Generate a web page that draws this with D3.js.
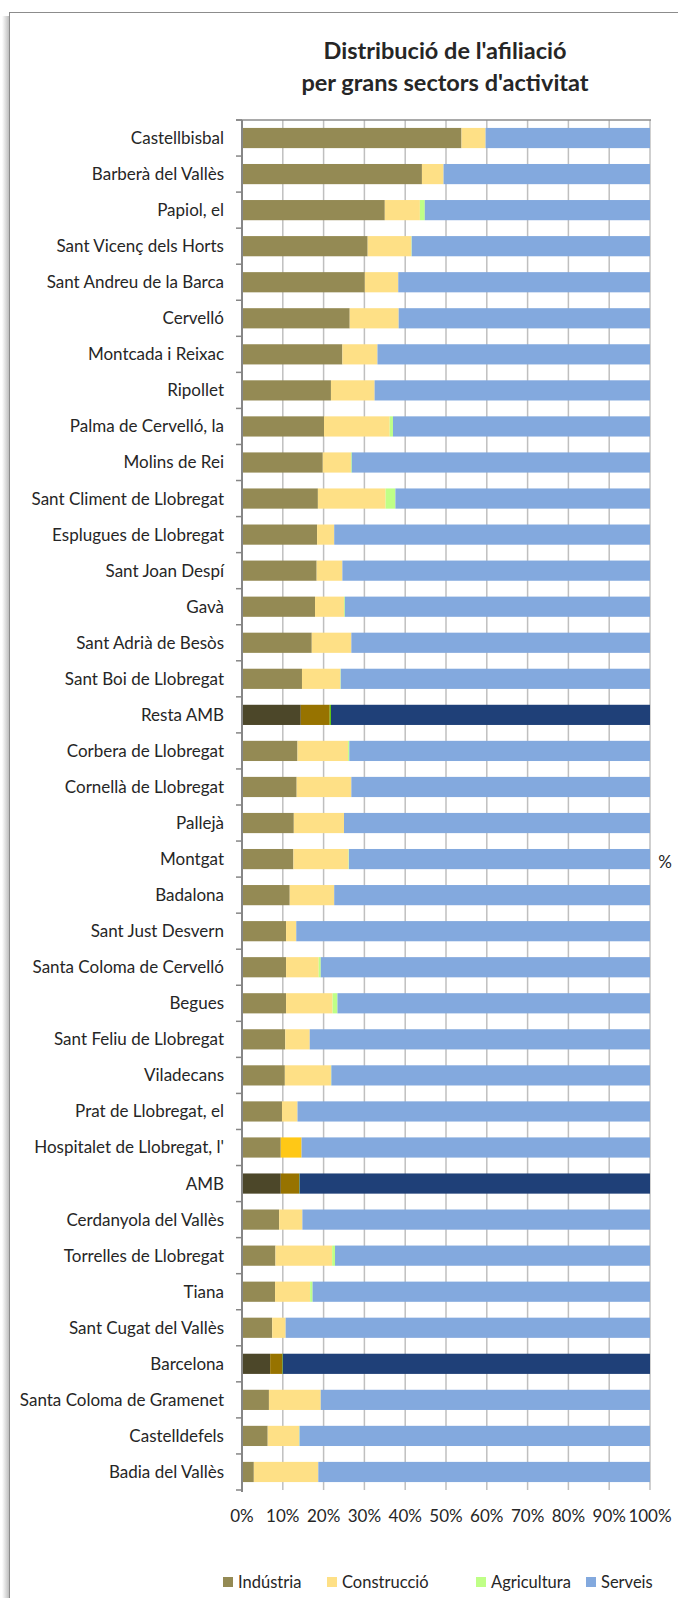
<!DOCTYPE html>
<html>
<head>
<meta charset="utf-8">
<script src="https://cdn.jsdelivr.net/npm/d3@7"></script>
<style>
  body { margin: 0; background: #fff; }
  svg { display: block; font-family: Lato, "Open Sans", sans-serif; }
</style>
</head>
<body>
<div id="chart"></div>
<script>
const W = 678, H = 1598;

// data (% of affiliates by sector)
const municipis = ["Castellbisbal","Barberà del Vallès","Papiol, el","Sant Vicenç dels Horts",
  "Sant Andreu de la Barca","Cervelló","Montcada i Reixac","Ripollet","Palma de Cervelló, la",
  "Molins de Rei","Sant Climent de Llobregat","Esplugues de Llobregat","Sant Joan Despí","Gavà",
  "Sant Adrià de Besòs","Sant Boi de Llobregat","Resta AMB","Corbera de Llobregat",
  "Cornellà de Llobregat","Pallejà","Montgat","Badalona","Sant Just Desvern",
  "Santa Coloma de Cervelló","Begues","Sant Feliu de Llobregat","Viladecans",
  "Prat de Llobregat, el","Hospitalet de Llobregat, l'","AMB","Cerdanyola del Vallès",
  "Torrelles de Llobregat","Tiana","Sant Cugat del Vallès","Barcelona",
  "Santa Coloma de Gramenet","Castelldefels","Badia del Vallès"];
const industria = [53.8,44.1,35.0,30.8,30.1,26.4,24.6,21.8,20.1,19.8,18.6,18.4,18.3,17.9,17.1,14.7,14.4,13.6,13.4,12.7,
  12.6,11.7,10.8,10.8,10.8,10.6,10.5,9.8,9.5,9.5,9.1,8.2,8.1,7.4,6.9,6.6,6.3,2.9];
const construccio = [5.9,5.3,8.6,10.7,8.2,12.0,8.6,10.7,16.1,6.9,16.6,4.2,6.3,7.1,9.7,9.4,7.1,12.4,13.4,12.3,
  13.5,10.9,2.5,8.0,11.4,6.0,11.3,3.8,5.1,4.5,5.7,13.9,8.6,3.3,3.0,12.7,7.7,15.8];
const agricultura = [0,0,1.2,0.1,0,0,0,0,0.8,0.2,2.4,0,0,0.2,0,0.1,0.3,0.3,0,0,
  0.1,0,0,0.5,1.2,0,0.1,0,0,0.1,0,0.7,0.6,0,0.1,0,0.1,0];
const serveis = [40.3,50.6,55.2,58.4,61.7,61.6,66.8,67.5,63.0,73.1,62.4,77.4,75.4,74.8,73.2,75.8,78.2,73.7,73.2,75.0,
  73.8,77.4,86.7,80.7,76.6,83.4,78.1,86.4,85.4,85.9,85.2,77.2,82.7,89.3,90.0,80.7,85.9,81.3];
const sectors = ["Indústria","Construcció","Agricultura","Serveis"];
const xTicks = [0,10,20,30,40,50,60,70,80,90,100];

const colors = ["#948a54","#fee086","#bfff87","#83a9de"];
const darkColors = ["#4c4729","#977300","#5fcc00","#1f4078"];
const darkRows = ["Resta AMB","AMB","Barcelona"];

const rows = municipis.map((m, i) => ({
  name: m,
  "Indústria": industria[i],
  "Construcció": construccio[i],
  "Agricultura": agricultura[i],
  "Serveis": serveis[i]
}));
const series = d3.stack().keys(sectors)(rows);

const svg = d3.select("#chart").append("svg")
  .attr("width", W)
  .attr("height", H);

// frame with a soft shadow on the left
const grad = svg.append("defs").append("linearGradient")
  .attr("id", "shadow").attr("x1", 0).attr("x2", 1);
grad.append("stop").attr("offset", 0).attr("stop-color", "#fff");
grad.append("stop").attr("offset", 1).attr("stop-color", "#b5b5b5");
svg.append("rect").attr("x", 2).attr("y", 16).attr("width", 8).attr("height", H)
  .attr("fill", "url(#shadow)");
svg.append("rect")
  .attr("x", 9.5).attr("y", 12.5)
  .attr("width", W + 20).attr("height", H)
  .attr("fill", "#fff")
  .attr("stroke", "#8c8c8c");

const x = d3.scaleLinear().domain([0, 100]).range([242, 650]);
const y = d3.scaleBand().domain(municipis).range([120, 1490])
  .paddingInner(0.44).paddingOuter(0.22);

// title
svg.append("text")
  .attr("x", 445).attr("y", 59)
  .attr("text-anchor", "middle")
  .attr("font-size", 23.5).attr("font-weight", "bold").attr("fill", "#262626")
  .selectAll("tspan")
  .data(["Distribució de l'afiliació", "per grans sectors d'activitat"])
  .enter().append("tspan")
  .attr("x", 445)
  .attr("dy", (d, i) => i ? 32 : 0)
  .text(d => d);

// gridlines
svg.append("g").selectAll("line")
  .data(xTicks.slice(1))
  .enter().append("line")
  .attr("x1", d => x(d)).attr("x2", d => x(d))
  .attr("y1", 120).attr("y2", 1490)
  .attr("stroke", "#bfbfbf").attr("stroke-width", 1.5);
svg.append("line")
  .attr("x1", 236).attr("x2", 651)
  .attr("y1", 120).attr("y2", 120)
  .attr("stroke", "#8c8c8c").attr("stroke-width", 1.5);

// bars
svg.append("g").selectAll("g")
  .data(series)
  .enter().append("g")
  .each(function(s, si) {
    d3.select(this).selectAll("rect")
      .data(s)
      .enter().append("rect")
      .attr("x", d => x(d[0]))
      .attr("width", d => x(d[1]) - x(d[0]))
      .attr("y", d => y(d.data.name))
      .attr("height", y.bandwidth())
      .attr("fill", d => {
        if (darkRows.includes(d.data.name)) return darkColors[si];
        if (d.data.name == "Hospitalet de Llobregat, l'" && si == 1) return "#ffc816";
        return colors[si];
      });
  });

// y axis
const yAxis = svg.append("g").attr("transform", "translate(242,0)");
yAxis.append("line").attr("y1", 120).attr("y2", 1492)
  .attr("stroke", "#868686").attr("stroke-width", 2);
yAxis.selectAll(".tk")
  .data(d3.range(municipis.length + 1))
  .enter().append("line")
  .attr("x1", -6).attr("x2", 0)
  .attr("y1", i => 120 + i * y.step()).attr("y2", i => 120 + i * y.step())
  .attr("stroke", "#868686").attr("stroke-width", 1.5);
yAxis.selectAll("text")
  .data(municipis)
  .enter().append("text")
  .attr("x", -18)
  .attr("y", d => y(d) + y.bandwidth() / 2)
  .attr("dy", "0.35em")
  .attr("text-anchor", "end")
  .attr("font-size", 17).attr("fill", "#262626")
  .text(d => d);

// x tick labels
svg.append("g").selectAll("text")
  .data(xTicks)
  .enter().append("text")
  .attr("x", d => x(d))
  .attr("y", 1516)
  .attr("dy", "0.35em")
  .attr("text-anchor", "middle")
  .attr("font-size", 17).attr("fill", "#262626")
  .text(d => d + "%");

svg.append("text")
  .attr("x", 665).attr("y", 862).attr("dy", "0.35em")
  .attr("text-anchor", "middle")
  .attr("font-size", 17).attr("fill", "#262626")
  .text("%");

// legend
const legX = [223, 327, 476, 586];
const leg = svg.append("g").selectAll("g")
  .data(sectors)
  .enter().append("g")
  .attr("transform", (d, i) => `translate(${legX[i]},1582)`);
leg.append("rect").attr("x", 0).attr("y", -5).attr("width", 10).attr("height", 10)
  .attr("fill", (d, i) => colors[i]);
leg.append("text").attr("x", 15).attr("dy", "0.35em")
  .attr("font-size", 16.5).attr("fill", "#262626")
  .text(d => d);
</script>
</body>
</html>
